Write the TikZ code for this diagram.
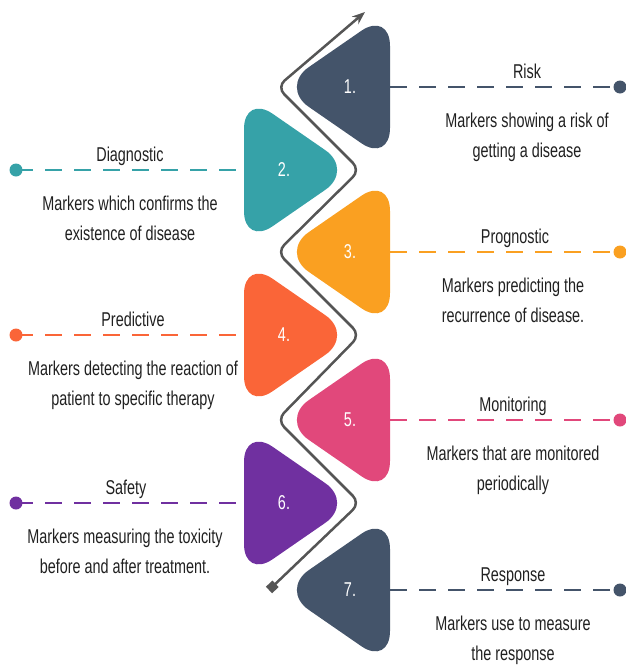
\documentclass[tikz,border=0pt]{standalone}
\usepackage{fontspec}
\setmainfont{Liberation Sans}[FakeStretch=0.72]
\usetikzlibrary{arrows.meta}
\definecolor{bmslate}{HTML}{44546A}
\definecolor{bmteal}{HTML}{36A2A8}
\definecolor{bmamber}{HTML}{FAA021}
\definecolor{bmcoral}{HTML}{FA6538}
\definecolor{bmpink}{HTML}{E1487B}
\definecolor{bmpurple}{HTML}{7030A0}
\definecolor{bmtext}{HTML}{202020}
\definecolor{bmpath}{HTML}{555555}

\begin{document}
\begin{tikzpicture}[
    x=1pt, y=-1pt,
    every node/.style={font=\fontsize{20}{30}\selectfont, text=bmtext, inner sep=0pt},
    tri/.style={rounded corners=35pt},
    num/.style={text=white},
    lead/.style={dash pattern=on 17pt off 12pt, line width=2.8pt},
    dot/.style={circle, fill=#1, minimum size=13pt},
    title/.style={anchor=base},
    desc/.style={anchor=north, align=center},
    zig/.style={draw=bmpath, line width=2.5pt, rounded corners=10pt,
      {Square[length=9pt,width=9pt]}-{Stealth[length=13pt,width=10pt]}},
  ]
  \useasboundingbox (0,0) rectangle (625,667);

  % rounded triangles, odd ones point left, even ones point right
  \fill[tri, bmslate]  (390,11)  -- (390,163) -- (280,87)  -- cycle;
  \fill[tri, bmteal]   (244,94)  -- (244,246) -- (354,170) -- cycle;
  \fill[tri, bmamber]  (390,176) -- (390,328) -- (280,252) -- cycle;
  \fill[tri, bmcoral]  (244,259) -- (244,411) -- (354,335) -- cycle;
  \fill[tri, bmpink]   (390,344) -- (390,496) -- (280,420) -- cycle;
  \fill[tri, bmpurple] (244,427) -- (244,579) -- (354,503) -- cycle;
  \fill[tri, bmslate]  (390,514) -- (390,666) -- (280,590) -- cycle;

  \node[num] (n1) at (350,87)  {1.};
  \node[num] (n2) at (284,170) {2.};
  \node[num] (n3) at (350,252) {3.};
  \node[num] (n4) at (284,335) {4.};
  \node[num] (n5) at (350,420) {5.};
  \node[num] (n6) at (284,503) {6.};
  \node[num] (n7) at (350,590) {7.};

  % winding path between the triangles
  \draw[zig] (269,590) -- (360,503) -- (277,420) -- (360,335)
    -- (277,252) -- (360,170) -- (277,87) -- (365,12);

  % dashed leaders out to the dots
  \coordinate (e1) at (390,87);
  \coordinate (e2) at (244,170);
  \coordinate (e3) at (390,252);
  \coordinate (e4) at (244,335);
  \coordinate (e5) at (390,420);
  \coordinate (e6) at (244,503);
  \coordinate (e7) at (390,590);
  \node[dot=bmslate]  (d1) at (620,87)  {};
  \node[dot=bmteal]   (d2) at (16,170)  {};
  \node[dot=bmamber]  (d3) at (620,252) {};
  \node[dot=bmcoral]  (d4) at (16,335)  {};
  \node[dot=bmpink]   (d5) at (620,420) {};
  \node[dot=bmpurple] (d6) at (16,503)  {};
  \node[dot=bmslate]  (d7) at (620,590) {};
  \draw[lead, bmslate]  (e1) -- (d1.center);
  \draw[lead, bmteal]   (d2.center) -- (e2);
  \draw[lead, bmamber]  (e3) -- (d3.center);
  \draw[lead, bmcoral]  (d4.center) -- (e4);
  \draw[lead, bmpink]   (e5) -- (d5.center);
  \draw[lead, bmpurple] (d6.center) -- (e6);
  \draw[lead, bmslate]  (e7) -- (d7.center);

  % marker types and what they do
  \node[title] (t1) at (527,78)  {Risk};
  \node[desc]  (m1) at (527,113) {Markers showing a risk of\\getting a disease};
  \node[title] (t2) at (130,161) {Diagnostic};
  \node[desc]  (m2) at (130,196) {Markers which confirms the\\existence of disease};
  \node[title] (t3) at (515,243) {Prognostic};
  \node[desc]  (m3) at (513,278) {Markers predicting the\\recurrence of disease.};
  \node[title] (t4) at (133,326) {Predictive};
  \node[desc]  (m4) at (133,361) {Markers detecting the reaction of\\patient to specific therapy};
  \node[title] (t5) at (513,411) {Monitoring};
  \node[desc]  (m5) at (513,446) {Markers that are monitored\\periodically};
  \node[title] (t6) at (126,494) {Safety};
  \node[desc]  (m6) at (125,529) {Markers measuring the toxicity\\before and after treatment.};
  \node[title] (t7) at (513,581) {Response};
  \node[desc]  (m7) at (513,616) {Markers use to measure\\the response};
\end{tikzpicture}
\end{document}
